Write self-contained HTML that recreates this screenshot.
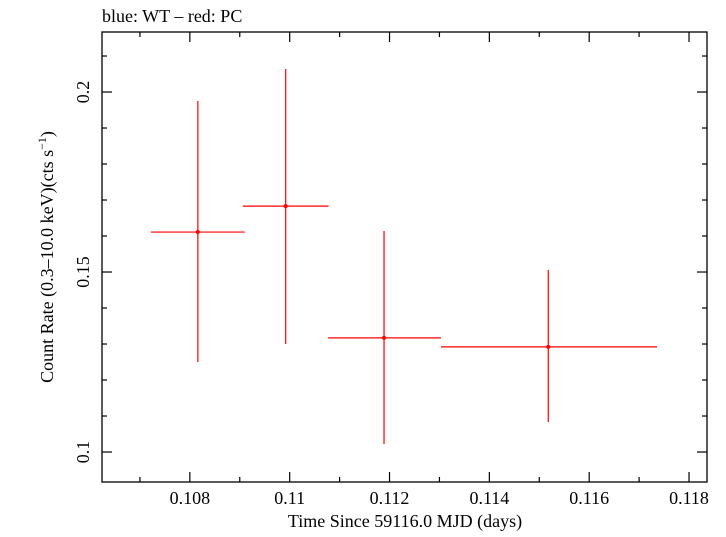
<!DOCTYPE html>
<html><head><meta charset="utf-8"><style>
html,body{margin:0;padding:0;background:#fff;}
svg text{font-family:"Liberation Serif",serif;fill:#000;}
</style></head><body>
<svg id="chart" width="726" height="532" xmlns="http://www.w3.org/2000/svg">
<text x="102" y="22" font-size="18">blue: WT – red: PC</text>
<rect x="102" y="32" width="605" height="450" fill="none" stroke="#000" stroke-width="1.3"/>
<g id="axes"></g>
<g id="series"></g>
<text x="405" y="527" font-size="18" text-anchor="middle">Time Since 59116.0 MJD (days)</text>
<text transform="translate(53,257) rotate(-90)" font-size="18" text-anchor="middle">Count Rate (0.3–10.0 keV)(cts s<tspan font-size="12" dy="-7">−1</tspan><tspan dy="7">)</tspan></text>
</svg>
<script>
const xTicks=[0.108,0.110,0.112,0.114,0.116,0.118];
const xTickLabels=["0.108","0.11","0.112","0.114","0.116","0.118"];
const yTicks=[0.10,0.15,0.20];
const yTickLabels=["0.1","0.15","0.2"];
const times=[0.10816,0.10992,0.11189,0.11518];
const timeLo=[0.10722,0.10906,0.11077,0.11303];
const timeHi=[0.10910,0.11078,0.11303,0.11736];
const rates=[0.1611,0.1683,0.1317,0.1292];
const rateLo=[0.1250,0.1300,0.1022,0.1083];
const rateHi=[0.1975,0.2064,0.1614,0.1506];

const L=102,R=707,T=32,B=482;
const x0=0.10624,x1=0.11836,y0=0.09167,y1=0.21667;
const X=v=>L+(v-x0)/(x1-x0)*(R-L);
const Y=v=>B-(v-y0)/(y1-y0)*(B-T);
const NS="http://www.w3.org/2000/svg";
function mk(tag,attrs,parent){const e=document.createElementNS(NS,tag);for(const k in attrs)e.setAttribute(k,attrs[k]);parent.appendChild(e);return e;}
const ax=document.getElementById('axes');
// minor ticks x
for(let i=107;i<=118;i++){const v=i/1000;const px=X(v);const major=(i%2===0);const len=major?10:5;
 const t1=mk('line',{x1:px,x2:px,y1:B,y2:B-len,stroke:'#000','stroke-width':1.2},ax);
 
 
 const t2=mk('line',{x1:px,x2:px,y1:T,y2:T+len,stroke:'#000','stroke-width':1.2},ax);
 
 
}
xTicks.forEach((v,i)=>{const t=mk('text',{x:X(v),y:504,'font-size':18,'text-anchor':'middle'},ax);t.textContent=xTickLabels[i];
 
 });
for(let i=10;i<=21;i++){const v=i/100;const py=Y(v);const major=(i%5===0);const len=major?10:5;
 const t1=mk('line',{x1:L,x2:L+len,y1:py,y2:py,stroke:'#000','stroke-width':1.2},ax);
 
 
 const t2=mk('line',{x1:R,x2:R-len,y1:py,y2:py,stroke:'#000','stroke-width':1.2},ax);
 
 
}
yTicks.forEach((v,i)=>{const t=mk('text',{'font-size':18,'text-anchor':'middle',transform:`translate(89,${Y(v)}) rotate(-90)`},ax);t.textContent=yTickLabels[i];
 
 });
const s=document.getElementById('series');
times.forEach((t,i)=>{
 const g=mk('g',{},s);
 
 
 mk('line',{x1:X(timeLo[i]),x2:X(timeHi[i]),y1:Y(rates[i]),y2:Y(rates[i]),stroke:'#f00','stroke-width':1.2},g);
 mk('line',{x1:X(t),x2:X(t),y1:Y(rateLo[i]),y2:Y(rateHi[i]),stroke:'#f00','stroke-width':1.2},g);
 mk('circle',{cx:X(t),cy:Y(rates[i]),r:2,fill:'#f00'},g);
});
</script>
</body></html>
